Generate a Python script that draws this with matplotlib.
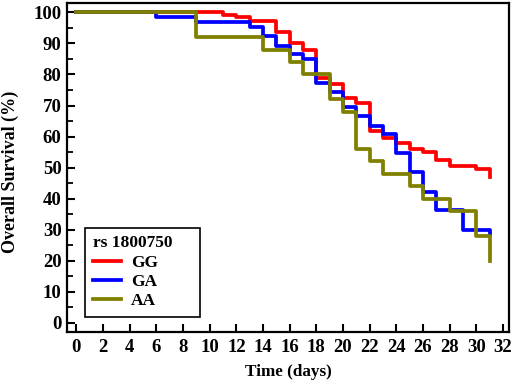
import matplotlib
matplotlib.use("Agg")
import matplotlib.pyplot as plt
from matplotlib.ticker import MultipleLocator

####################
# data
gg_days = [0, 11, 12, 13, 15, 16, 17, 18, 19, 20, 21, 22, 23, 24, 25, 26, 27, 28, 30, 31]
gg_surv = [100, 99.2, 98.4, 97.3, 93.6, 90.0, 88.0, 78.9, 77.0, 72.4, 70.7, 61.7, 59.6, 57.9,
           55.9, 55.0, 52.3, 50.4, 49.5, 47.0]
ga_days = [0, 6, 9, 13, 14, 15, 16, 17, 18, 19, 20, 21, 22, 23, 24, 25, 26, 27, 29, 31]
ga_surv = [100, 98.6, 96.9, 95.3, 92.5, 89.3, 86.6, 85.0, 77.4, 74.5, 69.5, 66.7, 63.5, 60.7,
           54.7, 48.6, 42.3, 36.5, 30.0, 28.7]
aa_days = [0, 9, 14, 16, 17, 19, 20, 21, 22, 23, 25, 26, 28, 30, 31]
aa_surv = [100, 92, 88, 84, 80, 72, 68, 56, 52, 48, 44, 40, 36, 28, 20]
labels = ["GG", "GA", "AA"]
####################

plt.rcParams['font.family'] = ['Liberation Serif', 'DejaVu Serif']
plt.rcParams['font.weight'] = 'bold'

fig = plt.figure(figsize=(5.12, 3.84), dpi=100)
ax = fig.add_axes([0.131, 0.135, 0.863, 0.857])

ax.step(gg_days, gg_surv, where='post', color='#ff0000', linewidth=2.7, label=labels[0])
ax.step(ga_days, ga_surv, where='post', color='#0000ff', linewidth=2.7, label=labels[1])
ax.step(aa_days, aa_surv, where='post', color='#808000', linewidth=2.7, label=labels[2])

ax.set_xlim(-0.7, 32.45)
ax.set_ylim(-3, 103)
ax.xaxis.set_major_locator(MultipleLocator(2))
ax.yaxis.set_major_locator(MultipleLocator(10))
ax.yaxis.set_minor_locator(MultipleLocator(5))
ax.tick_params(direction='in', labelsize=13.5, width=1.5)
ax.tick_params(which='major', length=6)
ax.tick_params(axis='x', pad=5)
ax.tick_params(axis='y', pad=4)
ax.tick_params(which='minor', direction='in', length=4, width=1.3)
for lab in ax.get_xticklabels() + ax.get_yticklabels():
    lab.set_fontweight('bold')
for sp in ax.spines.values():
    sp.set_linewidth(1.6)

ax.set_xlabel("Time (days)", fontsize=12.3, fontweight='bold')
ax.set_ylabel("Overall Survival (%)", fontsize=13, fontweight='bold')
ax.xaxis.set_label_coords(0.5, -0.097)
ax.yaxis.set_label_coords(-0.108, 0.486)

leg = ax.legend(loc='lower left', bbox_to_anchor=(0.041, 0.046, 0.26, 0.27), mode='expand',
                borderaxespad=0, title="rs 1800750", fancybox=False, edgecolor='black',
                framealpha=1, prop={'size': 12.5, 'weight': 'bold'}, handlelength=1.6,
                handletextpad=0.6, borderpad=0.45, labelspacing=0.18)
leg.get_title().set_fontsize(12.5)
leg.get_title().set_fontweight('bold')
leg._legend_box.align = "left"
leg.get_frame().set_linewidth(1.2)

plt.savefig("out.png", dpi=100)
